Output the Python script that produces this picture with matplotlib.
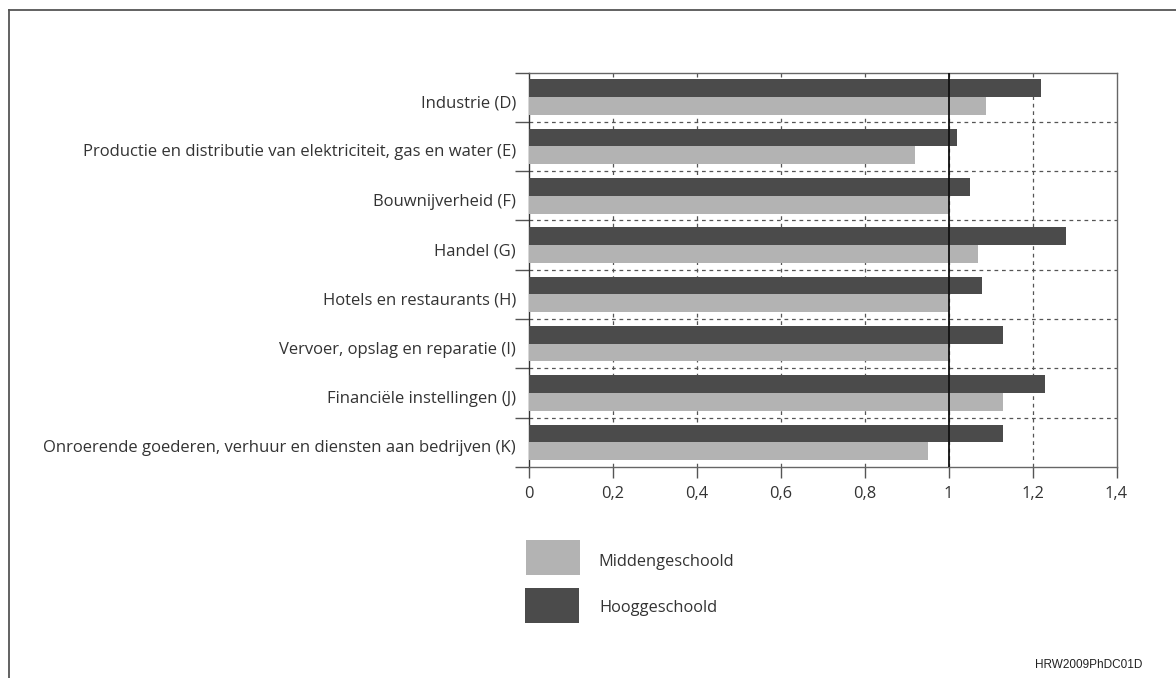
import matplotlib
matplotlib.use("Agg")
import matplotlib.pyplot as plt
from matplotlib.patches import Rectangle
from matplotlib.lines import Line2D
import numpy as np

categories = [
    "Industrie (D)",
    "Productie en distributie van elektriciteit, gas en water (E)",
    "Bouwnijverheid (F)",
    "Handel (G)",
    "Hotels en restaurants (H)",
    "Vervoer, opslag en reparatie (I)",
    "Financiële instellingen (J)",
    "Onroerende goederen, verhuur en diensten aan bedrijven (K)",
]
hoog = [1.22, 1.02, 1.05, 1.28, 1.08, 1.13, 1.23, 1.13]
midden = [1.09, 0.92, 1.00, 1.07, 1.00, 1.00, 1.13, 0.95]
xticks = [0, 0.2, 0.4, 0.6, 0.8, 1.0, 1.2, 1.4]
xticklabels = ["0", "0,2", "0,4", "0,6", "0,8", "1", "1,2", "1,4"]
legend_labels = ["Middengeschoold", "Hooggeschoold"]
footer = "HRW2009PhDC01D"

DARK = "#4b4b4b"
LIGHT = "#b3b3b3"
W, H = 1176, 678
plt.rcParams["font.family"] = ["Open Sans", "DejaVu Sans"]

fig = plt.figure(figsize=(W / 100, H / 100), dpi=100)
ax = fig.add_axes([529 / W, 1 - 467 / H, (1116.5 - 529) / W, (467 - 72.5) / H])

n = len(categories)
y = np.arange(n)
bh = 0.36
ax.barh(y - bh / 2, hoog, height=bh, color=DARK, zorder=3)
ax.barh(y + bh / 2, midden, height=bh, color=LIGHT, zorder=3)

ax.set_xlim(0, 1.4)
ax.set_ylim(n - 0.5, -0.5)

# grid
for xv in xticks[1:-1]:
    ax.axvline(xv, color="#555555", lw=0.9, ls=(0, (3, 3)), zorder=1)
for b in np.arange(0.5, n - 0.5, 1):
    ax.axhline(b, color="#555555", lw=0.9, ls=(0, (3, 3)), zorder=1)
ax.axvline(1.0, color="#111111", lw=1.3, zorder=4)

ax.set_xticks(xticks)
ax.set_xticklabels(xticklabels, fontsize=11.8, color="#333333")
ax.tick_params(axis="x", direction="out", length=8, width=1, color="#555555", pad=6)

ax.set_yticks(y + 0.08)
ax.set_yticklabels(categories, fontsize=12, color="#333333")
ax.tick_params(axis="y", which="major", length=0, pad=9.5)
ax.set_yticks(np.arange(-0.5, n, 1), minor=True)
ax.tick_params(axis="y", which="minor", direction="out", length=10, width=1, color="#555555")

for s in ax.spines.values():
    s.set_color("#666666")
    s.set_linewidth(1.0)
ax.spines["left"].set_color("#333333")

# legend
def fx(px):
    return px / W
def fy(py):
    return 1 - py / H

fig.patches.append(Rectangle((fx(526), fy(575)), 54 / W, 35 / H, transform=fig.transFigure,
                             facecolor=LIGHT, edgecolor="none"))
fig.patches.append(Rectangle((fx(525), fy(623)), 54 / W, 35 / H, transform=fig.transFigure,
                             facecolor=DARK, edgecolor="none"))
fig.text(fx(598), fy(562), legend_labels[0], fontsize=11.8, color="#333333", va="center", ha="left")
fig.text(fx(599), fy(608), legend_labels[1], fontsize=11.8, color="#333333", va="center", ha="left")

# frame
fig.add_artist(Line2D([fx(9), 1], [fy(10), fy(10)], transform=fig.transFigure, color="#555555", lw=1.3))
fig.add_artist(Line2D([fx(9), fx(9)], [fy(10), 0], transform=fig.transFigure, color="#555555", lw=1.3))

fig.text(fx(1142), fy(665), footer, fontsize=8.5, family="Liberation Sans", color="#222222",
         ha="right", va="center")

fig.savefig("out.png", dpi=100, facecolor="white")
